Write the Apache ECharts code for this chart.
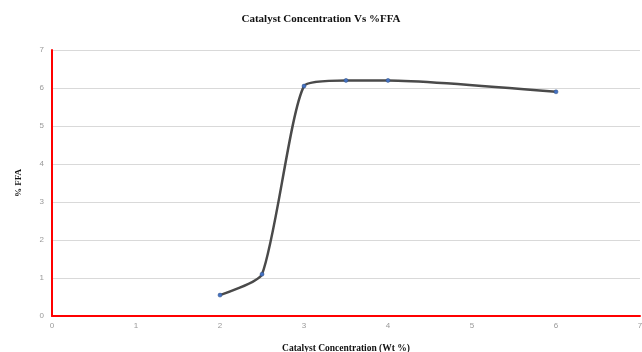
<!DOCTYPE html>
<html>
<head>
<meta charset="utf-8">
<script src="https://cdn.jsdelivr.net/npm/echarts@6/dist/echarts.min.js"></script>
<style>
  html, body { margin: 0; padding: 0; background: #fff; }
  #chart { width: 642px; height: 352px; }
</style>
</head>
<body>
<div id="chart"></div>
<script>
// catalyst concentration (wt %) vs %FFA
const concentration = [2, 2.5, 3, 3.5, 4, 6];
const ffa = [0.55, 1.1, 6.05, 6.2, 6.2, 5.9];
const xTicks = [0, 1, 2, 3, 4, 5, 6, 7];
const yTicks = [0, 1, 2, 3, 4, 5, 6, 7];

const myChart = echarts.init(document.getElementById("chart"));
const option = {
  animation: false,
  title: {
    text: "Catalyst Concentration Vs %FFA",
    left: "center",
    top: 9,
    textStyle: {
      fontFamily: "Liberation Serif",
      fontSize: 11,
      fontWeight: "bold",
      color: "#111",
    },
  },
  grid: { left: 52, right: 2, top: 50, bottom: 36, outerBoundsMode: "none" },
  xAxis: {
    type: "value",
    min: xTicks[0],
    max: xTicks[xTicks.length - 1],
    interval: 1,
    name: "Catalyst Concentration (Wt %)",
    nameLocation: "middle",
    nameGap: 28,
    nameTextStyle: {
      fontFamily: "Liberation Serif",
      fontSize: 9.5,
      fontWeight: "bold",
      color: "#111",
    },
    axisLine: { show: true, lineStyle: { color: "#ff0000", width: 2 } },
    axisTick: { show: false },
    splitLine: { show: false },
    axisLabel: { color: "#999", fontSize: 8, margin: 6, fontFamily: "Liberation Sans" },
  },
  yAxis: {
    type: "value",
    min: yTicks[0],
    max: yTicks[yTicks.length - 1],
    interval: 1,
    name: "% FFA",
    nameLocation: "middle",
    nameGap: 29,
    nameRotate: 90,
    nameTextStyle: {
      fontFamily: "Liberation Serif",
      fontSize: 9,
      fontWeight: "bold",
      color: "#111",
    },
    axisLine: { show: true, lineStyle: { color: "#ff0000", width: 2 } },
    axisTick: { show: false },
    splitLine: { show: true, lineStyle: { color: "#d9d9d9", width: 1 } },
    axisLabel: { color: "#999", fontSize: 8, margin: 8, fontFamily: "Liberation Sans" },
  },
  series: [
    {
      type: "line",
      data: concentration.map((c, i) => [c, ffa[i]]),
      smooth: 0.2,
      symbol: "circle",
      symbolSize: 4,
      lineStyle: { color: "#4a4a4a", width: 2.5 },
      itemStyle: { color: "#4472c4", borderColor: "#2f4f80", borderWidth: 0.5 },
      z: 3,
    },
  ],
};
myChart.setOption(option);
</script>
</body>
</html>
